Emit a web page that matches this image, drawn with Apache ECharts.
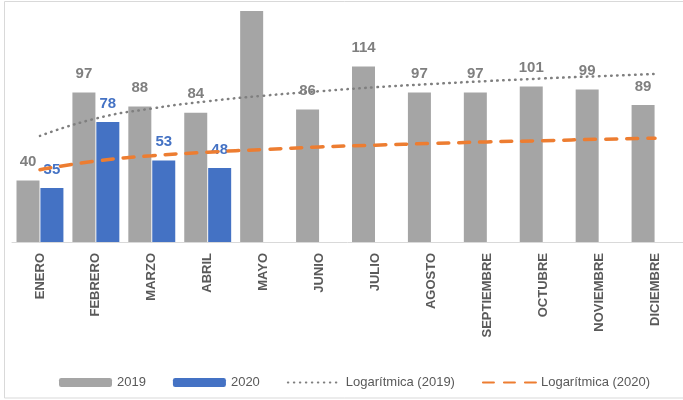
<!DOCTYPE html>
<html>
<head>
<meta charset="utf-8">
<script src="https://cdn.jsdelivr.net/npm/echarts@6/dist/echarts.min.js"></script>
<style>
html,body{margin:0;padding:0;background:#fff;}
#c{width:683px;height:400px;}
</style>
</head>
<body>
<div id="c"></div>
<script>
var months = ['ENERO','FEBRERO','MARZO','ABRIL','MAYO','JUNIO','JULIO','AGOSTO','SEPTIEMBRE','OCTUBRE','NOVIEMBRE','DICIEMBRE'];
var values2019 = [40, 97, 88, 84, 158, 86, 114, 97, 97, 101, 99, 89];
var values2020 = [35, 78, 53, 48, null, null, null, null, null, null, null, null];
var trend2019 = [68.9, 80.2, 86.7, 91.4, 95.0, 97.9, 100.5, 102.6, 104.5, 106.2, 107.7, 109.1];
var trend2020 = [46.9, 52.6, 56.0, 58.3, 60.1, 61.7, 62.9, 64.0, 65.0, 65.8, 66.7, 67.4];
var seriesNames = ['2019', '2020', 'Logarítmica (2019)', 'Logarítmica (2020)'];
var yMax = 150;

var chart = echarts.init(document.getElementById('c'), null, {renderer: 'canvas'});
var FONT = 'Liberation Sans';

var data2019 = values2019.map(function (v) {
  return v > yMax ? {value: v, label: {show: false}} : v;
});

chart.setOption({
  animation: false,
  backgroundColor: '#ffffff',
  textStyle: {fontFamily: FONT},
  graphic: [{
    type: 'rect', silent: true, z: -10,
    shape: {x: 4.5, y: 1.5, width: 700, height: 396.5},
    style: {fill: 'none', stroke: '#d9d9d9', lineWidth: 1}
  }],
  grid: {left: 12, top: 11, width: 675, height: 231, containLabel: false},
  legend: {
    data: [
      {name: seriesNames[0]},
      {name: seriesNames[1]},
      {name: seriesNames[2], itemStyle: {opacity: 0}},
      {name: seriesNames[3], itemStyle: {opacity: 0}}
    ],
    left: 59, top: 376, padding: 0,
    itemWidth: 53, itemHeight: 9, itemGap: 27,
    textStyle: {fontFamily: FONT, fontSize: 13, color: '#595959'}
  },
  xAxis: {
    type: 'category', data: months,
    axisLine: {lineStyle: {color: '#d9d9d9', width: 1}},
    axisTick: {show: false},
    axisLabel: {rotate: 90, margin: 11, fontFamily: FONT, fontSize: 13, fontWeight: 'bold', color: '#595959', interval: 0}
  },
  yAxis: {
    type: 'value', min: 0, max: yMax,
    show: false, splitLine: {show: false}
  },
  series: [
    {
      name: '2019', type: 'bar', data: data2019,
      barWidth: 23, barGap: '4%', clip: true,
      itemStyle: {color: '#A5A5A5'},
      label: {show: true, position: 'top', distance: 11, fontFamily: FONT, fontSize: 15, fontWeight: 'bold', color: '#7F7F7F'}
    },
    {
      name: '2020', type: 'bar', data: values2020,
      barWidth: 23, barGap: '4%',
      itemStyle: {color: '#4472C4'},
      label: {show: true, position: 'top', distance: 11, fontFamily: FONT, fontSize: 15, fontWeight: 'bold', color: '#4472C4'}
    },
    {
      name: 'Logarítmica (2019)', type: 'line', data: trend2019,
      symbol: 'none', smooth: true, z: 5,
      itemStyle: {color: '#7F7F7F'},
      lineStyle: {color: '#7F7F7F', width: 2.5, type: [0.5, 5.5], cap: 'round'}
    },
    {
      name: 'Logarítmica (2020)', type: 'line', data: trend2020,
      symbol: 'none', smooth: true, z: 5,
      itemStyle: {color: '#ED7D31'},
      lineStyle: {color: '#ED7D31', width: 3.5, type: [11, 10], cap: 'round'}
    }
  ]
});
</script>
</body>
</html>
